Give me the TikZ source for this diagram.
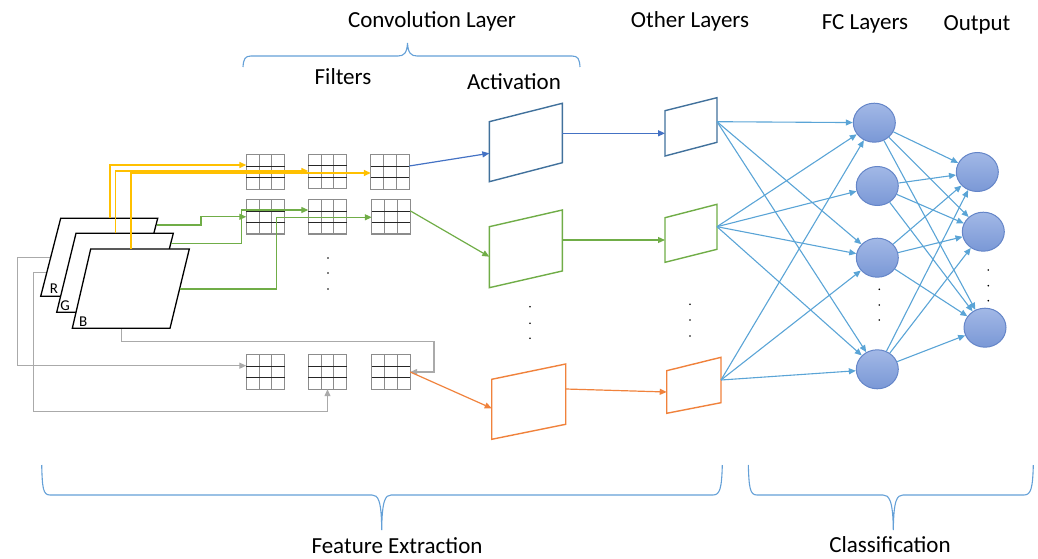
\documentclass[tikz,border=0pt]{standalone}
\usepackage{fontspec}
\setmainfont{Carlito}
\usetikzlibrary{arrows.meta,shapes.geometric,calc}
\definecolor{yel}{RGB}{255,192,0}
\definecolor{grn}{RGB}{112,173,71}
\definecolor{blu}{RGB}{65,113,156}
\definecolor{blua}{RGB}{68,114,196}
\definecolor{org}{RGB}{240,130,60}
\definecolor{gry}{RGB}{170,170,170}
\definecolor{gridc}{RGB}{140,140,140}
\definecolor{lbl}{RGB}{90,164,214}
\definecolor{brc}{RGB}{100,160,215}
\definecolor{ctop}{RGB}{162,184,230}
\definecolor{cbot}{RGB}{122,152,214}
\definecolor{cdraw}{RGB}{100,133,200}
\newcommand{\fgrid}[3]{%
  \node[minimum width=38pt, minimum height=34pt, inner sep=0pt] (#1) at (#2,#3) {};
  \draw[gridc, line width=1.1pt] (#1.north west) rectangle (#1.south east);
  \draw[gridc, line width=1.1pt]
    ($(#1.north west)!1/3!(#1.north east)$) -- ($(#1.south west)!1/3!(#1.south east)$)
    ($(#1.north west)!2/3!(#1.north east)$) -- ($(#1.south west)!2/3!(#1.south east)$);
  \draw[black!85, line width=1.1pt]
    ($(#1.north west)!1/3!(#1.south west)$) -- ($(#1.north east)!1/3!(#1.south east)$)
    ($(#1.north west)!2/3!(#1.south west)$) -- ($(#1.north east)!2/3!(#1.south east)$);
}
\begin{document}
\begin{tikzpicture}[x=1pt,y=-1pt,
  tip/.style={-{Triangle[length=7pt,width=6pt]}},
  conn/.style={line width=1.2pt, tip},
  plane/.style={draw=black, fill=white, line width=1.3pt, line join=miter},
  para/.style={fill=white, line width=1.4pt, line join=miter},
  lab/.style={font=\fontsize{23}{27}\selectfont, anchor=base, inner sep=0pt},
  rgb/.style={font=\fontsize{15}{17}\selectfont, inner sep=0pt},
  fcn/.style={ellipse, draw=cdraw, line width=1pt, top color=ctop, bottom color=cbot, minimum width=42pt, minimum height=39pt, inner sep=0pt},
  fce/.style={draw=lbl, line width=1.1pt, tip},
  brace/.style={draw=brc, line width=1.1pt},
  dot/.style={fill=black}
]
\useasboundingbox (0,0) rectangle (1038,559);

% ---------- titles ----------
\node[lab] (tconv) at (432,27.5) {Convolution Layer};
\node[lab] (tother) at (690,27.5) {Other Layers};
\node[lab] (tfc) at (865,29.5) {FC Layers};
\node[lab] (tout) at (977,31) {Output};
\node[lab] (tfil) at (343,84.5) {Filters};
\node[lab] (tact) at (514,89.5) {Activation};
\node[lab] (tfe) at (397,553) {Feature Extraction};
\node[lab] (tcl) at (890,552) {Classification};

% ---------- braces ----------
\draw[brace] (243,67) .. controls (243.5,59) and (245,56) .. (251,56) -- (398,56)
  .. controls (404,56) and (407,53) .. (407.5,43)
  .. controls (408,53) and (411,56) .. (417,56) -- (572,56)
  .. controls (578,56) and (579.5,59) .. (580,67);
\draw[brace] (41.7,465) .. controls (42.3,488) and (43,495) .. (50,495) -- (372,495)
  .. controls (378,495) and (381.5,500) .. (381.7,530)
  .. controls (382,500) and (385.5,495) .. (391,495) -- (713,495)
  .. controls (720,495) and (721.7,488) .. (722.3,465);
\draw[brace] (748.3,465) .. controls (749,488) and (750,495) .. (757,495) -- (883,495)
  .. controls (889,495) and (893,500) .. (893.3,530)
  .. controls (893.6,500) and (897,495) .. (903,495) -- (1024,495)
  .. controls (1031,495) and (1032.7,488) .. (1033.3,465);

% ---------- filter grids ----------
\fgrid{g11}{265.5}{172}
\fgrid{g12}{327.5}{171.5}
\fgrid{g13}{390}{172}
\fgrid{g21}{265.5}{216.8}
\fgrid{g22}{327.5}{216.8}
\fgrid{g23}{391}{216.8}
\fgrid{g31}{265.5}{372}
\fgrid{g32}{327.5}{372}
\fgrid{g33}{391}{372}

% ---------- gray connectors (behind planes) ----------
\coordinate (rL) at (50.7,257.3);
\coordinate (gL) at (66,272.7);
\coordinate (bBot) at (121.7,328.3);
\coordinate (grA) at (327.5,411.7);
\draw[gry, conn] (rL) -- (17.3,257.3) |- ([yshift=6.3pt]g31.west);
\draw[gry, conn] (gL) -- (33.3,272.7) |- (grA) -- (g32.south);
\draw[gry, conn] (bBot) -- (121.7,341.7) -- (434,341.7) -- (434,372) -- (g33.east);

% ---------- input planes ----------
\draw[plane] (60.7,218.3) -- (157.7,218.3) -- (137.7,296.3) -- (40.7,296.3) -- cycle;
\draw[plane] (76,233.3) -- (173.3,233.3) -- (153.3,312.3) -- (56.7,312.3) -- cycle;
\draw[plane] (90.7,249) -- (189.3,249) -- (170,328.3) -- (72.3,328.3) -- cycle;
\node[rgb] (lR) at (54,288.3) {R};
\node[rgb] (lG) at (65,305.7) {G};
\node[rgb] (lB) at (83.3,321.7) {B};

% ---------- yellow connectors ----------
\coordinate (yR) at (110,218.3);
\coordinate (yG) at (115.7,233.3);
\coordinate (yB) at (131,249);
\draw[yel, conn, line width=1.5pt] (yR) |- ([yshift=7pt]g11.west);
\draw[yel, conn, line width=1.5pt] (yG) |- ([yshift=0.5pt]g12.west);
\draw[yel, conn, line width=1.5pt] (yB) |- ([yshift=-1pt]g13.west);

% ---------- green connectors ----------
\coordinate (gR) at (157,225);
\coordinate (gG) at (171,243.3);
\coordinate (gB) at (179.5,289);
\draw[grn, conn] (gR) -- (201,225) |- (g21.west);
\draw[grn, conn] (gG) -- (241.7,243.3) |- ([yshift=6.8pt]g22.west);
\draw[grn, conn] (gB) -- (276.7,289) |- ([yshift=-0.5pt]g23.west);

% ---------- activation maps ----------
\draw[para, draw=blu] (489.3,121.7) -- (562.3,103.3) -- (562.3,162.7) -- (489.3,181.7) -- cycle;
\draw[para, draw=grn] (489.3,226.7) -- (562.3,210) -- (562.3,271) -- (489.3,287.7) -- cycle;
\draw[para, draw=org] (491.7,379.3) -- (565.7,364) -- (565.7,424.3) -- (491.7,439.3) -- cycle;
\coordinate (a1in) at (489.3,153.3);
\coordinate (a2in) at (489.3,256.7);
\coordinate (a3in) at (491.7,408.3);
\coordinate (a1out) at (562.3,133.3);
\coordinate (a2out) at (562.3,240);
\coordinate (a3out) at (565.7,389);
\draw[blua, conn] ([yshift=6pt]g13.east) -- (a1in);
\draw[grn, conn] ([yshift=6pt]g23.east) -- (a2in);
\draw[org, conn] (g33.east) -- (a3in);

% ---------- other layers ----------
\draw[para, draw=blu] (665,110.7) -- (717,97.7) -- (717,142.3) -- (665,156) -- cycle;
\draw[para, draw=grn] (665,217.7) -- (717,204.3) -- (717,249.3) -- (665,262.3) -- cycle;
\draw[para, draw=org] (666.7,370.7) -- (721,357.3) -- (721,402.7) -- (666.7,413.3) -- cycle;
\coordinate (o1in) at (665,133.3);
\coordinate (o2in) at (665,240);
\coordinate (o3in) at (666.7,392);
\coordinate (o1out) at (717,121.7);
\coordinate (o2out) at (717,226.7);
\coordinate (o3out) at (721,380);
\draw[blua, conn] (a1out) -- (o1in);
\draw[grn, conn] (a2out) -- (o2in);
\draw[org, conn] (a3out) -- (o3in);

% ---------- dots ----------
\foreach \yy in {258,273,289} \fill[dot] (328,\yy) circle (0.9);
\foreach \yy in {306.7,323.3,338.3} \fill[dot] (530,\yy) circle (0.9);
\foreach \yy in {304.3,320,336} \fill[dot] (690,\yy) circle (0.9);
\foreach \yy in {289.3,305,320} \fill[dot] (879.3,\yy) circle (0.9);
\foreach \yy in {270,285.7,300.7} \fill[dot] (988.3,\yy) circle (0.9);

% ---------- FC and output neurons ----------
\node[fcn] (F1) at (874.3,122.7) {};
\node[fcn] (F2) at (877.3,186) {};
\node[fcn] (F3) at (877.3,257.7) {};
\node[fcn] (F4) at (877.3,369.3) {};
\node[fcn] (P1) at (977.3,172) {};
\node[fcn] (P2) at (983.3,231.7) {};
\node[fcn] (P3) at (985,327.7) {};

\draw[fce] (o1out) -- (F1);
\draw[fce] (o1out) -- (F3);
\draw[fce] (o1out) -- (F4);
\draw[fce] (o2out) -- (F1);
\draw[fce] (o2out) -- (F2);
\draw[fce] (o2out) -- (F3);
\draw[fce] (o2out) -- (F4);
\draw[fce] (o3out) -- (F1);
\draw[fce] (o3out) -- (F3);
\draw[fce] (o3out) -- (F4);
\foreach \s in {F1,F2,F3,F4}
  \foreach \t in {P1,P2,P3}
    \draw[fce] (\s) -- (\t);
\end{tikzpicture}
\end{document}
